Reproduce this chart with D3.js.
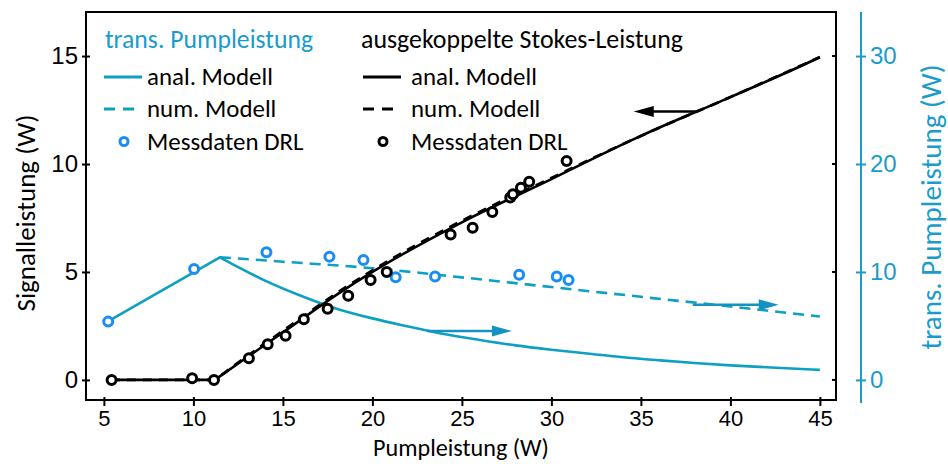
<!DOCTYPE html>
<html><head><meta charset="utf-8">
<script src="https://cdn.jsdelivr.net/npm/d3@7"></script>
<style>body{margin:0;background:#fff}svg{display:block}</style>
</head><body>
<svg id="c" width="948" height="464"></svg>
<script>
// ---- data ----
const xTicks = [5,10,15,20,25,30,35,40,45];
const yLeftTicks = [0,5,10,15];
const yRightTicks = [0,10,20,30];

// ausgekoppelte Stokes-Leistung (left axis, W)
const stokesAnalX = [5.4,10,11.2,13,15,18.1,20,25,30,32.7,35,40,44.75,45];
const stokesAnalY = [0,0,0,1.05,2.2,4.0,5.0,7.3,9.3,10.4,11.3,13.1,14.85,14.95];
const stokesNumX  = [5.4,10,11.2,13,15,18.1,20,25,30,32.7,35,40,45];
const stokesNumY  = [0,0,0,1.1,2.27,4.07,5.07,7.37,9.35,10.42,11.3,13.1,14.95];
const stokesMeasX = [5.43,9.93,11.15,13.1,14.15,15.15,16.17,17.5,18.65,19.9,20.8,24.37,25.6,26.7,27.7,27.85,28.3,28.76,30.85];
const stokesMeasY = [0,0.08,0,1.0,1.65,2.05,2.81,3.3,3.9,4.63,5.0,6.74,7.05,7.78,8.45,8.6,8.9,9.18,10.14];

// trans. Pumpleistung (right axis, W)
const pumpAnalX = [5.2,11.48,12.5,14,16,18,20,22,24,26,28,30,32,34,36,38,40,42,45];
const pumpAnalY = [5.4,11.36,10.45,9.2,7.8,6.6,5.7,4.95,4.25,3.7,3.2,2.8,2.45,2.1,1.82,1.56,1.35,1.17,0.93];
const pumpNumX  = [11.48,15,20,25,30,35,40,45];
const pumpNumY  = [11.36,10.95,10.35,9.5,8.6,7.7,6.8,5.87];
const pumpMeasX = [5.24,10.04,14.08,17.6,19.5,21.3,23.5,28.2,30.3,30.96];
const pumpMeasY = [5.4,10.28,11.82,11.42,11.1,9.5,9.57,9.75,9.57,9.26];

// arrows (x from, x to, value on corresponding axis)
const arrowStokes = {x0:38.17, x1:34.6, v:12.43};
const arrowPump   = [{x0:23.05, x1:27.8, v:4.53},{x0:37.9, x1:42.7, v:6.96}];

// ---- drawing ----
const BLACK = "#000", CYAN = "#0ea0c2", CYANTXT = "#1a9bcc", BLUE = "#1a8cf5", CYANARR = "#1592c2";
const svg = d3.select("#c");
const L = 86, R = 836, T = 12, B = 400;
const x = d3.scaleLinear().domain([4,45.9]).range([L,R]);
const yL = d3.scaleLinear().domain([-0.93,17.04]).range([B,T]);
const yR = d3.scaleLinear().domain([-1.86,34.08]).range([B,T]);
const tickFont = "'Liberation Sans', Arial, sans-serif";
const textFont = "Carlito, Calibri, Lato, sans-serif";

function fit(sel, target){
  const fs = +sel.attr("font-size") || 22;
  const w = sel.node().getComputedTextLength();
  if (w > 0) sel.attr("font-size", (fs*target/w).toFixed(2));
  return sel;
}

// frame
svg.append("rect").attr("x",L).attr("y",T).attr("width",R-L).attr("height",B-T)
  .attr("fill","none").attr("stroke",BLACK).attr("stroke-width",2);

// bottom axis
const gx = svg.append("g").attr("transform",`translate(0,${B})`)
  .call(d3.axisBottom(x).tickValues(xTicks).tickSize(6).tickPadding(4));
gx.select(".domain").remove();
gx.selectAll(".tick line").attr("y1",-3).attr("stroke-width",2);
gx.selectAll("text").attr("font-family",tickFont).attr("font-size",22).attr("fill",BLACK);

// left axis
const gy = svg.append("g").attr("transform",`translate(${L},0)`)
  .call(d3.axisLeft(yL).tickValues(yLeftTicks).tickSize(4).tickPadding(4));
gy.select(".domain").remove();
gy.selectAll(".tick line").attr("x1",4).attr("stroke-width",2);
gy.selectAll("text").attr("font-family",tickFont).attr("font-size",24).attr("fill",BLACK);

// mirrored inward ticks on the right frame
svg.append("g").selectAll("line").data(yLeftTicks).join("line")
  .attr("x1",R-4).attr("x2",R).attr("y1",d=>yL(d)).attr("y2",d=>yL(d))
  .attr("stroke",BLACK).attr("stroke-width",2);

// right (cyan) axis
const AX = 861;
const gr = svg.append("g").attr("transform",`translate(${AX},0)`)
  .call(d3.axisRight(yR).tickValues(yRightTicks).tickSize(5).tickPadding(4));
gr.select(".domain").remove();
gr.append("line").attr("x1",0).attr("x2",0).attr("y1",T).attr("y2",B+3).attr("stroke",CYANTXT).attr("stroke-width",2);
gr.selectAll(".tick line").attr("x1",-5).attr("stroke",CYANTXT).attr("stroke-width",2);
gr.selectAll("text").attr("font-family",tickFont).attr("font-size",24).attr("fill",CYANTXT);

// axis titles
fit(svg.append("text").attr("x",461).attr("y",456).attr("text-anchor","middle")
  .attr("font-family",textFont).attr("font-size",24).attr("fill",BLACK).text("Pumpleistung (W)"), 176);
fit(svg.append("text").attr("transform","translate(35,213) rotate(-90)").attr("text-anchor","middle")
  .attr("font-family",textFont).attr("font-size",24).attr("fill",BLACK).text("Signalleistung (W)"), 197);
fit(svg.append("text").attr("transform","translate(941,207) rotate(-90)").attr("text-anchor","middle")
  .attr("font-family",textFont).attr("font-size",24).attr("fill",CYANTXT).text("trans. Pumpleistung (W)"), 285);

// lines
const zip = (xs,ys)=>xs.map((v,i)=>[v,ys[i]]);
const lineL = d3.line().x(d=>x(d[0])).y(d=>yL(d[1]));
const lineLs = d3.line().x(d=>x(d[0])).y(d=>yL(d[1])).curve(d3.curveMonotoneX);
const lineR = d3.line().x(d=>x(d[0])).y(d=>yR(d[1]));
const lineRs = d3.line().x(d=>x(d[0])).y(d=>yR(d[1])).curve(d3.curveMonotoneX);

const pumpAnal = zip(pumpAnalX,pumpAnalY);
svg.append("path").attr("d",lineR(pumpAnal.slice(0,2)) + lineRs(pumpAnal.slice(1)).replace(/^M[^CL]*/, "L" + x(pumpAnalX[1]) + "," + yR(pumpAnalY[1])))
  .attr("fill","none").attr("stroke",CYAN).attr("stroke-width",2.6).attr("stroke-linejoin","round");
svg.append("path").attr("d",lineRs(zip(pumpNumX,pumpNumY))).attr("fill","none")
  .attr("stroke",CYAN).attr("stroke-width",2.6).attr("stroke-dasharray","11,7");

const stokesAnal = zip(stokesAnalX,stokesAnalY), stokesNum = zip(stokesNumX,stokesNumY);
svg.append("path").attr("d",lineL(stokesAnal.slice(0,3)) + lineLs(stokesAnal.slice(2)).replace(/^M[^CL]*/, "L" + x(stokesAnalX[2]) + "," + yL(stokesAnalY[2])))
  .attr("fill","none").attr("stroke",BLACK).attr("stroke-width",2.6);
svg.append("path").attr("d",lineL(stokesNum.slice(0,3)) + lineLs(stokesNum.slice(2)).replace(/^M[^CL]*/, "L" + x(stokesNumX[2]) + "," + yL(stokesNumY[2])))
  .attr("fill","none").attr("stroke",BLACK).attr("stroke-width",2.8).attr("stroke-dasharray","9,7");

// markers
svg.append("g").selectAll("circle").data(zip(pumpMeasX,pumpMeasY)).join("circle")
  .attr("cx",d=>x(d[0])).attr("cy",d=>yR(d[1])).attr("r",4.5)
  .attr("fill","#fff").attr("stroke",BLUE).attr("stroke-width",3);
svg.append("g").selectAll("circle").data(zip(stokesMeasX,stokesMeasY)).join("circle")
  .attr("cx",d=>x(d[0])).attr("cy",d=>yL(d[1])).attr("r",4.5)
  .attr("fill","#fff").attr("stroke",BLACK).attr("stroke-width",3);

// arrows
function arrow(x0,x1,y,color){
  const dir = Math.sign(x1-x0), hl = 20, hw = 5.5;
  svg.append("line").attr("x1",x0).attr("x2",x1-dir*hl+dir*2).attr("y1",y).attr("y2",y)
    .attr("stroke",color).attr("stroke-width",2.6);
  svg.append("path").attr("d",`M${x1},${y}L${x1-dir*hl},${y-hw}L${x1-dir*hl},${y+hw}Z`).attr("fill",color);
}
arrow(x(arrowStokes.x0),x(arrowStokes.x1),yL(arrowStokes.v),BLACK);
arrowPump.forEach(a=>arrow(x(a.x0),x(a.x1),yR(a.v),CYANARR));

// legend
const lg = svg.append("g").attr("font-family",textFont).attr("font-size",24);
fit(lg.append("text").attr("x",105).attr("y",48).attr("font-size",24).attr("fill",CYANTXT).text("trans. Pumpleistung"), 208);
fit(lg.append("text").attr("x",361).attr("y",48).attr("font-size",24).attr("fill",BLACK).text("ausgekoppelte Stokes-Leistung"), 322);
const items = [
  {x:104, c:CYAN, mc:BLUE},
  {x:363, c:BLACK, mc:BLACK}
];
const rows = [77, 109, 141.5];
items.forEach(it=>{
  lg.append("line").attr("x1",it.x).attr("x2",it.x+38).attr("y1",rows[0]).attr("y2",rows[0])
    .attr("stroke",it.c).attr("stroke-width",2.8);
  lg.append("line").attr("x1",it.x).attr("x2",it.x+31).attr("y1",rows[1]).attr("y2",rows[1])
    .attr("stroke",it.c).attr("stroke-width",2.8).attr("stroke-dasharray","11,8");
  lg.append("circle").attr("cx",it.x+20).attr("cy",rows[2]).attr("r",4)
    .attr("fill","#fff").attr("stroke",it.mc).attr("stroke-width",3);
  const tx = it.x+43+(it.x>200?5:0);
  ["anal. Modell","num. Modell","Messdaten DRL"].forEach((t,i)=>{
    const s = lg.append("text").attr("x",tx).attr("y",rows[i]+8).attr("font-size",24).attr("fill",BLACK).text(t);
    if (i===0) fit(s,126);
  });
});
// make all legend entry texts share the fitted size
const entrySize = lg.selectAll("text").filter((d,i,n)=>n[i].textContent==="anal. Modell").attr("font-size");
lg.selectAll("text").filter((d,i,n)=>["num. Modell","Messdaten DRL"].includes(n[i].textContent)).attr("font-size",entrySize);
</script>
</body></html>
